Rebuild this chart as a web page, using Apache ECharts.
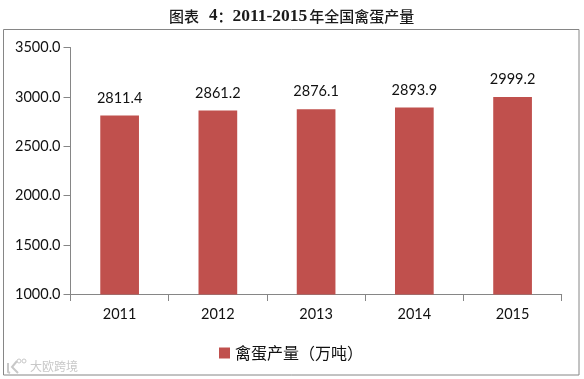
<!DOCTYPE html>
<html><head><meta charset="utf-8">
<style>html,body{margin:0;padding:0;background:#fff}#c{width:584px;height:379px}</style>
<script src="https://cdn.jsdelivr.net/npm/echarts@6/dist/echarts.min.js"></script>
</head><body><div id="c"></div>
<script>
const categories = ["2011","2012","2013","2014","2015"];
const seriesName = "禽蛋产量（万吨）";
const values = [2811.4,2861.2,2876.1,2893.9,2999.2];
const chart = echarts.init(document.getElementById('c'),null,{renderer:'canvas'});
const font = 'Lato,"Noto Sans",sans-serif';
const cjk = '"Noto Sans CJK SC",sans-serif';
const serif = '"Liberation Serif",serif';
const axisColor = '#868686';
const grey = '#c8c8c8';
chart.setOption({
  animation:false,
  title:{text:"{c|图表}{a|4}{c|：}{n|2011-2015}{c|年全国禽蛋产量}",left:164,top:2,
    textStyle:{rich:{
      c:{fontFamily:cjk,fontSize:15,fontWeight:500,color:'#1a1a1a',lineHeight:18},
      a:{fontFamily:serif,fontSize:17,fontWeight:'bold',color:'#1a1a1a',lineHeight:18,padding:[0,0,0,10]},
      n:{fontFamily:serif,fontSize:17.5,fontWeight:'bold',color:'#1a1a1a',lineHeight:18,padding:[0,2,0,0]}
    }}},
  grid:{left:70.5,right:22.3,top:47.5,bottom:84.5,containLabel:false},
  legend:{data:[seriesName],left:214,top:340,itemWidth:11,itemHeight:11,itemGap:5,
    icon:'rect',
    textStyle:{fontFamily:cjk,fontSize:16,color:'#111'}},
  xAxis:{type:'category',data:categories,
    axisLine:{lineStyle:{color:axisColor}},
    axisTick:{show:true,alignWithLabel:false,length:6.5,lineStyle:{color:axisColor}},
    axisLabel:{fontFamily:font,fontSize:14.5,color:'#111',margin:12}},
  yAxis:{type:'value',min:1000,max:3500,interval:500,
    splitLine:{show:false},
    axisLine:{show:true,lineStyle:{color:axisColor}},
    axisTick:{show:true,length:7,lineStyle:{color:axisColor}},
    axisLabel:{fontFamily:font,fontSize:14.5,color:'#111',margin:10,formatter:v=>v.toFixed(1)}},
  series:[{name:seriesName,type:'bar',data:values,barWidth:38.7,
    itemStyle:{color:'#C0504D'},
    label:{show:true,position:'top',distance:10,fontFamily:font,fontSize:14.5,color:'#111',formatter:p=>p.value.toFixed(1)}}],
  graphic:[{type:'rect',shape:{x:3.5,y:29.5,width:575.5,height:345.5},z:-1,silent:true,
    style:{fill:'#fff',stroke:axisColor,lineWidth:1}},
    {type:'polyline',silent:true,shape:{points:[[8,363],[8,372],[10,373]]},style:{fill:'none',stroke:grey,lineWidth:2}},
    {type:'polyline',silent:true,shape:{points:[[17,361],[12,367],[18,373]]},style:{fill:'none',stroke:grey,lineWidth:2}},
    {type:'circle',silent:true,shape:{cx:19,cy:361,r:2},style:{fill:'none',stroke:grey,lineWidth:1}},
    {type:'circle',silent:true,shape:{cx:24,cy:361,r:2},style:{fill:'none',stroke:grey,lineWidth:1}},
    {type:'text',x:30,y:360.5,silent:true,style:{text:'大欧跨境',fill:grey,font:'12px "Noto Sans CJK SC"'}}]
});
</script></body></html>
